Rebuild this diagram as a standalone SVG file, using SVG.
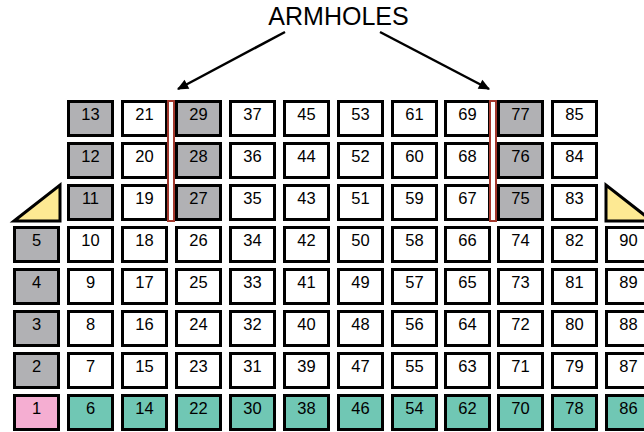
<svg xmlns="http://www.w3.org/2000/svg" width="644" height="432" viewBox="0 0 644 432">
<defs>
<style>
rect.b{stroke:#000;stroke-width:3}
.g{fill:#b1b1b4}.w{fill:#fff}.t{fill:#70c7b4}.p{fill:#f5aed2}
text{font-family:"Liberation Sans",Arial,sans-serif;font-size:16.5px;fill:#000;text-anchor:middle}
.tri{fill:#fde993;stroke:#000;stroke-width:3;stroke-linejoin:miter}
.arm{fill:#fff;stroke:#a3382d;stroke-width:2}
.conn{stroke:#000;stroke-width:2.5;fill:none}
</style>
<marker id="ah" viewBox="0 0 10 10" refX="9" refY="5" markerWidth="5" markerHeight="4.5" orient="auto" markerUnits="strokeWidth"><path d="M0,0.5 L10,5 L0,9.5 z" fill="#000"/></marker>
</defs>
<rect width="644" height="432" fill="#fff"/>
<text id="label" x="338.5" y="25" style="font-size:25px">ARMHOLES</text>
<g id="connectors">
<line class="conn" x1="285" y1="32" x2="178" y2="89" marker-end="url(#ah)"/>
<line class="conn" x1="380" y1="32" x2="489" y2="89" marker-end="url(#ah)"/>
</g>
<g id="tri-left"><polygon class="tri" points="14,221 60,185 60,221"/></g>
<g id="tri-right"><polygon class="tri" points="606,185 606,221 652,221"/></g>
<!-- col 0 -->
<g id="n5" transform="translate(13,226)"><rect class="b g" x="1.5" y="1.5" width="44" height="34"/><text x="23.5" y="20">5</text></g>
<g id="n4" transform="translate(13,268)"><rect class="b g" x="1.5" y="1.5" width="44" height="34"/><text x="23.5" y="20">4</text></g>
<g id="n3" transform="translate(13,310)"><rect class="b g" x="1.5" y="1.5" width="44" height="34"/><text x="23.5" y="20">3</text></g>
<g id="n2" transform="translate(13,352)"><rect class="b g" x="1.5" y="1.5" width="44" height="34"/><text x="23.5" y="20">2</text></g>
<g id="n1" transform="translate(13,394)"><rect class="b p" x="1.5" y="1.5" width="44" height="34"/><text x="23.5" y="20">1</text></g>
<!-- col 1 -->
<g id="n13" transform="translate(67,100)"><rect class="b g" x="1.5" y="1.5" width="44" height="34"/><text x="23.5" y="20">13</text></g>
<g id="n12" transform="translate(67,142)"><rect class="b g" x="1.5" y="1.5" width="44" height="34"/><text x="23.5" y="20">12</text></g>
<g id="n11" transform="translate(67,184)"><rect class="b g" x="1.5" y="1.5" width="44" height="34"/><text x="23.5" y="20">11</text></g>
<g id="n10" transform="translate(67,226)"><rect class="b w" x="1.5" y="1.5" width="44" height="34"/><text x="23.5" y="20">10</text></g>
<g id="n9" transform="translate(67,268)"><rect class="b w" x="1.5" y="1.5" width="44" height="34"/><text x="23.5" y="20">9</text></g>
<g id="n8" transform="translate(67,310)"><rect class="b w" x="1.5" y="1.5" width="44" height="34"/><text x="23.5" y="20">8</text></g>
<g id="n7" transform="translate(67,352)"><rect class="b w" x="1.5" y="1.5" width="44" height="34"/><text x="23.5" y="20">7</text></g>
<g id="n6" transform="translate(67,394)"><rect class="b t" x="1.5" y="1.5" width="44" height="34"/><text x="23.5" y="20">6</text></g>
<!-- col 2 -->
<g id="n21" transform="translate(121,100)"><rect class="b w" x="1.5" y="1.5" width="44" height="34"/><text x="23.5" y="20">21</text></g>
<g id="n20" transform="translate(121,142)"><rect class="b w" x="1.5" y="1.5" width="44" height="34"/><text x="23.5" y="20">20</text></g>
<g id="n19" transform="translate(121,184)"><rect class="b w" x="1.5" y="1.5" width="44" height="34"/><text x="23.5" y="20">19</text></g>
<g id="n18" transform="translate(121,226)"><rect class="b w" x="1.5" y="1.5" width="44" height="34"/><text x="23.5" y="20">18</text></g>
<g id="n17" transform="translate(121,268)"><rect class="b w" x="1.5" y="1.5" width="44" height="34"/><text x="23.5" y="20">17</text></g>
<g id="n16" transform="translate(121,310)"><rect class="b w" x="1.5" y="1.5" width="44" height="34"/><text x="23.5" y="20">16</text></g>
<g id="n15" transform="translate(121,352)"><rect class="b w" x="1.5" y="1.5" width="44" height="34"/><text x="23.5" y="20">15</text></g>
<g id="n14" transform="translate(121,394)"><rect class="b t" x="1.5" y="1.5" width="44" height="34"/><text x="23.5" y="20">14</text></g>
<!-- col 3 -->
<g id="n29" transform="translate(175,100)"><rect class="b g" x="1.5" y="1.5" width="44" height="34"/><text x="23.5" y="20">29</text></g>
<g id="n28" transform="translate(175,142)"><rect class="b g" x="1.5" y="1.5" width="44" height="34"/><text x="23.5" y="20">28</text></g>
<g id="n27" transform="translate(175,184)"><rect class="b g" x="1.5" y="1.5" width="44" height="34"/><text x="23.5" y="20">27</text></g>
<g id="n26" transform="translate(175,226)"><rect class="b w" x="1.5" y="1.5" width="44" height="34"/><text x="23.5" y="20">26</text></g>
<g id="n25" transform="translate(175,268)"><rect class="b w" x="1.5" y="1.5" width="44" height="34"/><text x="23.5" y="20">25</text></g>
<g id="n24" transform="translate(175,310)"><rect class="b w" x="1.5" y="1.5" width="44" height="34"/><text x="23.5" y="20">24</text></g>
<g id="n23" transform="translate(175,352)"><rect class="b w" x="1.5" y="1.5" width="44" height="34"/><text x="23.5" y="20">23</text></g>
<g id="n22" transform="translate(175,394)"><rect class="b t" x="1.5" y="1.5" width="44" height="34"/><text x="23.5" y="20">22</text></g>
<!-- col 4 -->
<g id="n37" transform="translate(229,100)"><rect class="b w" x="1.5" y="1.5" width="44" height="34"/><text x="23.5" y="20">37</text></g>
<g id="n36" transform="translate(229,142)"><rect class="b w" x="1.5" y="1.5" width="44" height="34"/><text x="23.5" y="20">36</text></g>
<g id="n35" transform="translate(229,184)"><rect class="b w" x="1.5" y="1.5" width="44" height="34"/><text x="23.5" y="20">35</text></g>
<g id="n34" transform="translate(229,226)"><rect class="b w" x="1.5" y="1.5" width="44" height="34"/><text x="23.5" y="20">34</text></g>
<g id="n33" transform="translate(229,268)"><rect class="b w" x="1.5" y="1.5" width="44" height="34"/><text x="23.5" y="20">33</text></g>
<g id="n32" transform="translate(229,310)"><rect class="b w" x="1.5" y="1.5" width="44" height="34"/><text x="23.5" y="20">32</text></g>
<g id="n31" transform="translate(229,352)"><rect class="b w" x="1.5" y="1.5" width="44" height="34"/><text x="23.5" y="20">31</text></g>
<g id="n30" transform="translate(229,394)"><rect class="b t" x="1.5" y="1.5" width="44" height="34"/><text x="23.5" y="20">30</text></g>
<!-- col 5 -->
<g id="n45" transform="translate(283,100)"><rect class="b w" x="1.5" y="1.5" width="44" height="34"/><text x="23.5" y="20">45</text></g>
<g id="n44" transform="translate(283,142)"><rect class="b w" x="1.5" y="1.5" width="44" height="34"/><text x="23.5" y="20">44</text></g>
<g id="n43" transform="translate(283,184)"><rect class="b w" x="1.5" y="1.5" width="44" height="34"/><text x="23.5" y="20">43</text></g>
<g id="n42" transform="translate(283,226)"><rect class="b w" x="1.5" y="1.5" width="44" height="34"/><text x="23.5" y="20">42</text></g>
<g id="n41" transform="translate(283,268)"><rect class="b w" x="1.5" y="1.5" width="44" height="34"/><text x="23.5" y="20">41</text></g>
<g id="n40" transform="translate(283,310)"><rect class="b w" x="1.5" y="1.5" width="44" height="34"/><text x="23.5" y="20">40</text></g>
<g id="n39" transform="translate(283,352)"><rect class="b w" x="1.5" y="1.5" width="44" height="34"/><text x="23.5" y="20">39</text></g>
<g id="n38" transform="translate(283,394)"><rect class="b t" x="1.5" y="1.5" width="44" height="34"/><text x="23.5" y="20">38</text></g>
<!-- col 6 -->
<g id="n53" transform="translate(337,100)"><rect class="b w" x="1.5" y="1.5" width="44" height="34"/><text x="23.5" y="20">53</text></g>
<g id="n52" transform="translate(337,142)"><rect class="b w" x="1.5" y="1.5" width="44" height="34"/><text x="23.5" y="20">52</text></g>
<g id="n51" transform="translate(337,184)"><rect class="b w" x="1.5" y="1.5" width="44" height="34"/><text x="23.5" y="20">51</text></g>
<g id="n50" transform="translate(337,226)"><rect class="b w" x="1.5" y="1.5" width="44" height="34"/><text x="23.5" y="20">50</text></g>
<g id="n49" transform="translate(337,268)"><rect class="b w" x="1.5" y="1.5" width="44" height="34"/><text x="23.5" y="20">49</text></g>
<g id="n48" transform="translate(337,310)"><rect class="b w" x="1.5" y="1.5" width="44" height="34"/><text x="23.5" y="20">48</text></g>
<g id="n47" transform="translate(337,352)"><rect class="b w" x="1.5" y="1.5" width="44" height="34"/><text x="23.5" y="20">47</text></g>
<g id="n46" transform="translate(337,394)"><rect class="b t" x="1.5" y="1.5" width="44" height="34"/><text x="23.5" y="20">46</text></g>
<!-- col 7 -->
<g id="n61" transform="translate(391,100)"><rect class="b w" x="1.5" y="1.5" width="44" height="34"/><text x="23.5" y="20">61</text></g>
<g id="n60" transform="translate(391,142)"><rect class="b w" x="1.5" y="1.5" width="44" height="34"/><text x="23.5" y="20">60</text></g>
<g id="n59" transform="translate(391,184)"><rect class="b w" x="1.5" y="1.5" width="44" height="34"/><text x="23.5" y="20">59</text></g>
<g id="n58" transform="translate(391,226)"><rect class="b w" x="1.5" y="1.5" width="44" height="34"/><text x="23.5" y="20">58</text></g>
<g id="n57" transform="translate(391,268)"><rect class="b w" x="1.5" y="1.5" width="44" height="34"/><text x="23.5" y="20">57</text></g>
<g id="n56" transform="translate(391,310)"><rect class="b w" x="1.5" y="1.5" width="44" height="34"/><text x="23.5" y="20">56</text></g>
<g id="n55" transform="translate(391,352)"><rect class="b w" x="1.5" y="1.5" width="44" height="34"/><text x="23.5" y="20">55</text></g>
<g id="n54" transform="translate(391,394)"><rect class="b t" x="1.5" y="1.5" width="44" height="34"/><text x="23.5" y="20">54</text></g>
<!-- col 8 -->
<g id="n69" transform="translate(444,100)"><rect class="b w" x="1.5" y="1.5" width="44" height="34"/><text x="23.5" y="20">69</text></g>
<g id="n68" transform="translate(444,142)"><rect class="b w" x="1.5" y="1.5" width="44" height="34"/><text x="23.5" y="20">68</text></g>
<g id="n67" transform="translate(444,184)"><rect class="b w" x="1.5" y="1.5" width="44" height="34"/><text x="23.5" y="20">67</text></g>
<g id="n66" transform="translate(444,226)"><rect class="b w" x="1.5" y="1.5" width="44" height="34"/><text x="23.5" y="20">66</text></g>
<g id="n65" transform="translate(444,268)"><rect class="b w" x="1.5" y="1.5" width="44" height="34"/><text x="23.5" y="20">65</text></g>
<g id="n64" transform="translate(444,310)"><rect class="b w" x="1.5" y="1.5" width="44" height="34"/><text x="23.5" y="20">64</text></g>
<g id="n63" transform="translate(444,352)"><rect class="b w" x="1.5" y="1.5" width="44" height="34"/><text x="23.5" y="20">63</text></g>
<g id="n62" transform="translate(444,394)"><rect class="b t" x="1.5" y="1.5" width="44" height="34"/><text x="23.5" y="20">62</text></g>
<!-- col 9 -->
<g id="n77" transform="translate(497,100)"><rect class="b g" x="1.5" y="1.5" width="44" height="34"/><text x="23.5" y="20">77</text></g>
<g id="n76" transform="translate(497,142)"><rect class="b g" x="1.5" y="1.5" width="44" height="34"/><text x="23.5" y="20">76</text></g>
<g id="n75" transform="translate(497,184)"><rect class="b g" x="1.5" y="1.5" width="44" height="34"/><text x="23.5" y="20">75</text></g>
<g id="n74" transform="translate(497,226)"><rect class="b w" x="1.5" y="1.5" width="44" height="34"/><text x="23.5" y="20">74</text></g>
<g id="n73" transform="translate(497,268)"><rect class="b w" x="1.5" y="1.5" width="44" height="34"/><text x="23.5" y="20">73</text></g>
<g id="n72" transform="translate(497,310)"><rect class="b w" x="1.5" y="1.5" width="44" height="34"/><text x="23.5" y="20">72</text></g>
<g id="n71" transform="translate(497,352)"><rect class="b w" x="1.5" y="1.5" width="44" height="34"/><text x="23.5" y="20">71</text></g>
<g id="n70" transform="translate(497,394)"><rect class="b t" x="1.5" y="1.5" width="44" height="34"/><text x="23.5" y="20">70</text></g>
<!-- col 10 -->
<g id="n85" transform="translate(551,100)"><rect class="b w" x="1.5" y="1.5" width="44" height="34"/><text x="23.5" y="20">85</text></g>
<g id="n84" transform="translate(551,142)"><rect class="b w" x="1.5" y="1.5" width="44" height="34"/><text x="23.5" y="20">84</text></g>
<g id="n83" transform="translate(551,184)"><rect class="b w" x="1.5" y="1.5" width="44" height="34"/><text x="23.5" y="20">83</text></g>
<g id="n82" transform="translate(551,226)"><rect class="b w" x="1.5" y="1.5" width="44" height="34"/><text x="23.5" y="20">82</text></g>
<g id="n81" transform="translate(551,268)"><rect class="b w" x="1.5" y="1.5" width="44" height="34"/><text x="23.5" y="20">81</text></g>
<g id="n80" transform="translate(551,310)"><rect class="b w" x="1.5" y="1.5" width="44" height="34"/><text x="23.5" y="20">80</text></g>
<g id="n79" transform="translate(551,352)"><rect class="b w" x="1.5" y="1.5" width="44" height="34"/><text x="23.5" y="20">79</text></g>
<g id="n78" transform="translate(551,394)"><rect class="b t" x="1.5" y="1.5" width="44" height="34"/><text x="23.5" y="20">78</text></g>
<!-- col 11 -->
<g id="n90" transform="translate(605,226)"><rect class="b w" x="1.5" y="1.5" width="44" height="34"/><text x="23.5" y="20">90</text></g>
<g id="n89" transform="translate(605,268)"><rect class="b w" x="1.5" y="1.5" width="44" height="34"/><text x="23.5" y="20">89</text></g>
<g id="n88" transform="translate(605,310)"><rect class="b w" x="1.5" y="1.5" width="44" height="34"/><text x="23.5" y="20">88</text></g>
<g id="n87" transform="translate(605,352)"><rect class="b w" x="1.5" y="1.5" width="44" height="34"/><text x="23.5" y="20">87</text></g>
<g id="n86" transform="translate(605,394)"><rect class="b t" x="1.5" y="1.5" width="44" height="34"/><text x="23.5" y="20">86</text></g>
<g id="armhole-left"><rect class="arm" x="168" y="101" width="6" height="120"/></g>
<g id="armhole-right"><rect class="arm" x="490" y="101" width="6" height="120"/></g>
</svg>
